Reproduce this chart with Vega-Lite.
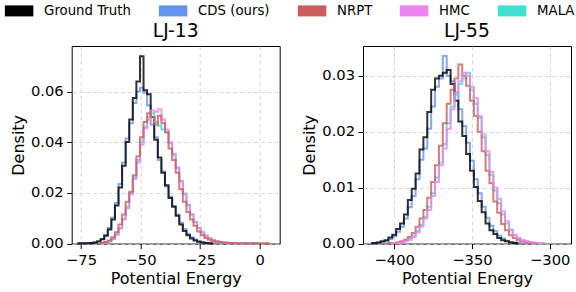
{
  "$schema": "https://vega.github.io/schema/vega-lite/v6.json",
  "padding": {"left": 7.7, "top": 0, "right": 0, "bottom": 0},
  "bounds": "flush",
  "spacing": 83.3,
  "datasets": {
    "lj13": [
      {"E": -76.5, "Ground Truth": 0, "CDS (ours)": 0},
      {"E": -75, "Ground Truth": 0.0001, "CDS (ours)": 0.0001},
      {"E": -73.5, "Ground Truth": 0.0001, "CDS (ours)": 0.0001},
      {"E": -72, "Ground Truth": 0.0001, "CDS (ours)": 0.0001},
      {"E": -70.5, "Ground Truth": 0.0002, "CDS (ours)": 0.0002},
      {"E": -69, "Ground Truth": 0.0004, "CDS (ours)": 0.0004},
      {"E": -67.5, "Ground Truth": 0.0008, "CDS (ours)": 0.0009, "NRPT": 0, "HMC": 0, "MALA": 0},
      {"E": -66, "Ground Truth": 0.0017, "CDS (ours)": 0.0018, "NRPT": 0.0003, "HMC": 0.0002, "MALA": 0.0002},
      {"E": -64.5, "Ground Truth": 0.0031, "CDS (ours)": 0.0035, "NRPT": 0.0006, "HMC": 0.0004, "MALA": 0.0004},
      {"E": -63, "Ground Truth": 0.0056, "CDS (ours)": 0.0062, "NRPT": 0.0012, "HMC": 0.0008, "MALA": 0.0009},
      {"E": -61.5, "Ground Truth": 0.0095, "CDS (ours)": 0.0103, "NRPT": 0.0025, "HMC": 0.0018, "MALA": 0.0019},
      {"E": -60, "Ground Truth": 0.015, "CDS (ours)": 0.016, "NRPT": 0.0045, "HMC": 0.0035, "MALA": 0.0036},
      {"E": -58.5, "Ground Truth": 0.0221, "CDS (ours)": 0.0235, "NRPT": 0.0075, "HMC": 0.006, "MALA": 0.0062},
      {"E": -57, "Ground Truth": 0.0307, "CDS (ours)": 0.032, "NRPT": 0.0115, "HMC": 0.0095, "MALA": 0.0098},
      {"E": -55.5, "Ground Truth": 0.0401, "CDS (ours)": 0.0415, "NRPT": 0.0165, "HMC": 0.014, "MALA": 0.0145},
      {"E": -54, "Ground Truth": 0.049, "CDS (ours)": 0.0475, "NRPT": 0.0205, "HMC": 0.0195, "MALA": 0.02},
      {"E": -52.5, "Ground Truth": 0.0575, "CDS (ours)": 0.0555, "NRPT": 0.027, "HMC": 0.0255, "MALA": 0.0262},
      {"E": -51, "Ground Truth": 0.064, "CDS (ours)": 0.06, "NRPT": 0.0345, "HMC": 0.032, "MALA": 0.033},
      {"E": -49.5, "Ground Truth": 0.074, "CDS (ours)": 0.0615, "NRPT": 0.042, "HMC": 0.039, "MALA": 0.04},
      {"E": -48, "Ground Truth": 0.0605, "CDS (ours)": 0.0595, "NRPT": 0.048, "HMC": 0.0455, "MALA": 0.046},
      {"E": -46.5, "Ground Truth": 0.059, "CDS (ours)": 0.0545, "NRPT": 0.0515, "HMC": 0.049, "MALA": 0.05},
      {"E": -45, "Ground Truth": 0.05, "CDS (ours)": 0.047, "NRPT": 0.05, "HMC": 0.0525, "MALA": 0.0515},
      {"E": -43.5, "Ground Truth": 0.041, "CDS (ours)": 0.042, "NRPT": 0.047, "HMC": 0.052, "MALA": 0.048},
      {"E": -42, "Ground Truth": 0.034, "CDS (ours)": 0.033, "NRPT": 0.0505, "HMC": 0.053, "MALA": 0.0465},
      {"E": -40.5, "Ground Truth": 0.028, "CDS (ours)": 0.0285, "NRPT": 0.0475, "HMC": 0.049, "MALA": 0.045},
      {"E": -39, "Ground Truth": 0.023, "CDS (ours)": 0.0225, "NRPT": 0.044, "HMC": 0.045, "MALA": 0.044},
      {"E": -37.5, "Ground Truth": 0.018, "CDS (ours)": 0.0185, "NRPT": 0.0375, "HMC": 0.04, "MALA": 0.0395},
      {"E": -36, "Ground Truth": 0.0145, "CDS (ours)": 0.0148, "NRPT": 0.033, "HMC": 0.0355, "MALA": 0.035},
      {"E": -34.5, "Ground Truth": 0.011, "CDS (ours)": 0.0115, "NRPT": 0.028, "HMC": 0.03, "MALA": 0.0298},
      {"E": -33, "Ground Truth": 0.0075, "CDS (ours)": 0.0082, "NRPT": 0.0215, "HMC": 0.0245, "MALA": 0.0248},
      {"E": -31.5, "Ground Truth": 0.005, "CDS (ours)": 0.0058, "NRPT": 0.0165, "HMC": 0.0195, "MALA": 0.0198},
      {"E": -30, "Ground Truth": 0.0033, "CDS (ours)": 0.0038, "NRPT": 0.0125, "HMC": 0.015, "MALA": 0.0152},
      {"E": -28.5, "Ground Truth": 0.002, "CDS (ours)": 0.0025, "NRPT": 0.0095, "HMC": 0.0115, "MALA": 0.0116},
      {"E": -27, "Ground Truth": 0.0012, "CDS (ours)": 0.0016, "NRPT": 0.007, "HMC": 0.0085, "MALA": 0.0086},
      {"E": -25.5, "Ground Truth": 0.0007, "CDS (ours)": 0.0009, "NRPT": 0.0048, "HMC": 0.0062, "MALA": 0.0063},
      {"E": -24, "Ground Truth": 0.0004, "CDS (ours)": 0.0005, "NRPT": 0.0033, "HMC": 0.0045, "MALA": 0.0045},
      {"E": -22.5, "Ground Truth": 0.0002, "CDS (ours)": 0.0003, "NRPT": 0.0022, "HMC": 0.0031, "MALA": 0.0032},
      {"E": -21, "Ground Truth": 0.0001, "CDS (ours)": 0.0001, "NRPT": 0.0015, "HMC": 0.0021, "MALA": 0.0022},
      {"E": -19.5, "Ground Truth": 0, "CDS (ours)": 0.0001, "NRPT": 0.001, "HMC": 0.0014, "MALA": 0.0015},
      {"E": -18, "CDS (ours)": 0, "NRPT": 0.0007, "HMC": 0.0009, "MALA": 0.001},
      {"E": -16.5, "NRPT": 0.0005, "HMC": 0.0006, "MALA": 0.0007},
      {"E": -15, "NRPT": 0.0003, "HMC": 0.0004, "MALA": 0.0005},
      {"E": -13.5, "NRPT": 0.0002, "HMC": 0.0003, "MALA": 0.0003},
      {"E": -12, "NRPT": 0.0002, "HMC": 0.0002, "MALA": 0.0002},
      {"E": -10.5, "NRPT": 0.0001, "HMC": 0.0002, "MALA": 0.0002},
      {"E": -9, "NRPT": 0.0001, "HMC": 0.0001, "MALA": 0.0001},
      {"E": -7.5, "NRPT": 0.0001, "HMC": 0.0001, "MALA": 0.0001},
      {"E": -6, "NRPT": 0.0001, "HMC": 0.0001, "MALA": 0.0001},
      {"E": -4.5, "NRPT": 0.0001, "HMC": 0.0001, "MALA": 0.0001},
      {"E": -3, "NRPT": 0.0001, "HMC": 0.0001, "MALA": 0.0001},
      {"E": -1.5, "NRPT": 0.0001, "HMC": 0, "MALA": 0.0001},
      {"E": 0, "NRPT": 0.0001, "MALA": 0},
      {"E": 1.5, "NRPT": 0.0001},
      {"E": 3, "NRPT": 0.0001},
      {"E": 4.5, "NRPT": 0}
    ],
    "lj55": [
      {"E": -415, "Ground Truth": 0, "CDS (ours)": 0},
      {"E": -412.5, "Ground Truth": 0.0001, "CDS (ours)": 0.0001},
      {"E": -410, "Ground Truth": 0.0002, "CDS (ours)": 0.0002},
      {"E": -407.5, "Ground Truth": 0.0004, "CDS (ours)": 0.0003},
      {"E": -405, "Ground Truth": 0.0006, "CDS (ours)": 0.0005, "NRPT": 0, "MALA": 0},
      {"E": -402.5, "Ground Truth": 0.0011, "CDS (ours)": 0.0008, "NRPT": 0.0001, "HMC": 0, "MALA": 0.0001},
      {"E": -400, "Ground Truth": 0.0016, "CDS (ours)": 0.0013, "NRPT": 0.0001, "HMC": 0.0001, "MALA": 0.0001},
      {"E": -397.5, "Ground Truth": 0.0026, "CDS (ours)": 0.0021, "NRPT": 0.0002, "HMC": 0.0001, "MALA": 0.0002},
      {"E": -395, "Ground Truth": 0.0036, "CDS (ours)": 0.003, "NRPT": 0.0004, "HMC": 0.0002, "MALA": 0.0003},
      {"E": -392.5, "Ground Truth": 0.0052, "CDS (ours)": 0.0045, "NRPT": 0.0007, "HMC": 0.0004, "MALA": 0.0005},
      {"E": -390, "Ground Truth": 0.0078, "CDS (ours)": 0.0065, "NRPT": 0.0012, "HMC": 0.0007, "MALA": 0.0009},
      {"E": -387.5, "Ground Truth": 0.0098, "CDS (ours)": 0.0085, "NRPT": 0.0019, "HMC": 0.0012, "MALA": 0.0014},
      {"E": -385, "Ground Truth": 0.0125, "CDS (ours)": 0.0115, "NRPT": 0.003, "HMC": 0.002, "MALA": 0.0022},
      {"E": -382.5, "Ground Truth": 0.0168, "CDS (ours)": 0.015, "NRPT": 0.0045, "HMC": 0.003, "MALA": 0.0033},
      {"E": -380, "Ground Truth": 0.019, "CDS (ours)": 0.017, "NRPT": 0.006, "HMC": 0.0045, "MALA": 0.0048},
      {"E": -377.5, "Ground Truth": 0.0235, "CDS (ours)": 0.0205, "NRPT": 0.0082, "HMC": 0.006, "MALA": 0.0066},
      {"E": -375, "Ground Truth": 0.0275, "CDS (ours)": 0.0245, "NRPT": 0.011, "HMC": 0.0085, "MALA": 0.009},
      {"E": -372.5, "Ground Truth": 0.0295, "CDS (ours)": 0.028, "NRPT": 0.014, "HMC": 0.011, "MALA": 0.0118},
      {"E": -370, "Ground Truth": 0.03, "CDS (ours)": 0.0295, "NRPT": 0.0175, "HMC": 0.014, "MALA": 0.0145},
      {"E": -367.5, "Ground Truth": 0.0305, "CDS (ours)": 0.0335, "NRPT": 0.0215, "HMC": 0.017, "MALA": 0.0178},
      {"E": -365, "Ground Truth": 0.031, "CDS (ours)": 0.03, "NRPT": 0.025, "HMC": 0.0205, "MALA": 0.0215},
      {"E": -362.5, "Ground Truth": 0.0285, "CDS (ours)": 0.029, "NRPT": 0.0275, "HMC": 0.024, "MALA": 0.0245},
      {"E": -360, "Ground Truth": 0.0255, "CDS (ours)": 0.027, "NRPT": 0.0295, "HMC": 0.027, "MALA": 0.0265},
      {"E": -357.5, "Ground Truth": 0.0218, "CDS (ours)": 0.024, "NRPT": 0.032, "HMC": 0.029, "MALA": 0.0285},
      {"E": -355, "Ground Truth": 0.0192, "CDS (ours)": 0.021, "NRPT": 0.03, "HMC": 0.0305, "MALA": 0.0295},
      {"E": -352.5, "Ground Truth": 0.016, "CDS (ours)": 0.018, "NRPT": 0.0282, "HMC": 0.03, "MALA": 0.0305},
      {"E": -350, "Ground Truth": 0.013, "CDS (ours)": 0.0148, "NRPT": 0.0255, "HMC": 0.028, "MALA": 0.0275},
      {"E": -347.5, "Ground Truth": 0.0101, "CDS (ours)": 0.0115, "NRPT": 0.0228, "HMC": 0.026, "MALA": 0.025},
      {"E": -345, "Ground Truth": 0.0076, "CDS (ours)": 0.009, "NRPT": 0.02, "HMC": 0.0228, "MALA": 0.0225},
      {"E": -342.5, "Ground Truth": 0.0056, "CDS (ours)": 0.0066, "NRPT": 0.0165, "HMC": 0.0195, "MALA": 0.019},
      {"E": -340, "Ground Truth": 0.0036, "CDS (ours)": 0.0046, "NRPT": 0.013, "HMC": 0.0165, "MALA": 0.0158},
      {"E": -337.5, "Ground Truth": 0.0024, "CDS (ours)": 0.0032, "NRPT": 0.0108, "HMC": 0.0128, "MALA": 0.0122},
      {"E": -335, "Ground Truth": 0.0017, "CDS (ours)": 0.0022, "NRPT": 0.0075, "HMC": 0.01, "MALA": 0.0095},
      {"E": -332.5, "Ground Truth": 0.001, "CDS (ours)": 0.0014, "NRPT": 0.0055, "HMC": 0.008, "MALA": 0.0072},
      {"E": -330, "Ground Truth": 0.0006, "CDS (ours)": 0.0009, "NRPT": 0.0035, "HMC": 0.0058, "MALA": 0.0052},
      {"E": -327.5, "Ground Truth": 0.0004, "CDS (ours)": 0.0005, "NRPT": 0.0024, "HMC": 0.004, "MALA": 0.0036},
      {"E": -325, "Ground Truth": 0.0002, "CDS (ours)": 0.0003, "NRPT": 0.0015, "HMC": 0.0025, "MALA": 0.0024},
      {"E": -322.5, "Ground Truth": 0.0001, "CDS (ours)": 0.0002, "NRPT": 0.001, "HMC": 0.0016, "MALA": 0.0015},
      {"E": -320, "Ground Truth": 0, "CDS (ours)": 0.0001, "NRPT": 0.0006, "HMC": 0.001, "MALA": 0.0009},
      {"E": -317.5, "CDS (ours)": 0, "NRPT": 0.0004, "HMC": 0.0006, "MALA": 0.0006},
      {"E": -315, "NRPT": 0.0002, "HMC": 0.0004, "MALA": 0.0004},
      {"E": -312.5, "NRPT": 0.0001, "HMC": 0.0003, "MALA": 0.0002},
      {"E": -310, "NRPT": 0.0001, "HMC": 0.0002, "MALA": 0.0001},
      {"E": -307.5, "NRPT": 0, "HMC": 0.0001, "MALA": 0.0001},
      {"E": -305, "HMC": 0.0001, "MALA": 0},
      {"E": -302.5, "HMC": 0}
    ]
  },
  "hconcat": [
    {
      "width": 208,
      "height": 197.6,
      "title": "LJ-13",
      "data": {"name": "lj13"},
      "transform": [
        {"fold": ["MALA", "HMC", "NRPT", "CDS (ours)", "Ground Truth"], "as": ["Method", "Density"]},
        {"filter": "isValid(datum.Density)"}
      ],
      "mark": {"type": "line", "interpolate": "step", "strokeWidth": 2, "opacity": 0.8},
      "encoding": {
        "x": {"field": "E", "type": "quantitative", "scale": {"domain": [-78.9, 8.4], "nice": false, "zero": false}, "axis": {"values": [-75, -50, -25, 0], "title": "Potential Energy"}},
        "y": {"field": "Density", "type": "quantitative", "scale": {"domain": [0, 0.078], "nice": false}, "axis": {"values": [0, 0.02, 0.04, 0.06], "format": ".2f", "title": "Density"}},
        "color": {
          "field": "Method", "type": "nominal",
          "scale": {"domain": ["Ground Truth", "CDS (ours)", "NRPT", "HMC", "MALA"], "range": ["#000000", "#6495ED", "#CD5C5C", "#EE82EE", "#40E0D0"]},
          "legend": {
            "orient": "none", "legendX": -63.1, "legendY": -45.7, "direction": "horizontal", "columns": 5, "title": null, "padding": 0,
            "symbolType": "M-1.37,-0.53H1.37V0.53H-1.37Z", "symbolSize": 432, "symbolOpacity": 1, "symbolStrokeWidth": 0,
            "labelOffset": 14.5, "columnPadding": 27, "labelFont": "DejaVu Sans", "labelFontSize": 13.3, "labelColor": "#000000", "labelLimit": 300,
            "encode": {"symbols": {"update": {"fill": {"scale": "color", "field": "value"}, "opacity": {"value": 1}, "strokeWidth": {"value": 0}}}}
          }
        }
      }
    },
    {
      "width": 208,
      "height": 197.6,
      "title": "LJ-55",
      "data": {"name": "lj55"},
      "transform": [
        {"fold": ["MALA", "HMC", "NRPT", "CDS (ours)", "Ground Truth"], "as": ["Method", "Density"]},
        {"filter": "isValid(datum.Density)"}
      ],
      "mark": {"type": "line", "interpolate": "step", "strokeWidth": 2, "opacity": 0.8},
      "encoding": {
        "x": {"field": "E", "type": "quantitative", "scale": {"domain": [-420.1, -286.3], "nice": false, "zero": false}, "axis": {"values": [-400, -350, -300], "title": "Potential Energy"}},
        "y": {"field": "Density", "type": "quantitative", "scale": {"domain": [0, 0.0353], "nice": false}, "axis": {"values": [0, 0.01, 0.02, 0.03], "format": ".2f", "title": "Density"}},
        "color": {"field": "Method", "type": "nominal"}
      }
    }
  ],
  "config": {
    "background": "white",
    "view": {"stroke": "#000000", "strokeWidth": 1},
    "font": "DejaVu Sans",
    "title": {"font": "DejaVu Sans", "fontSize": 18.7, "fontWeight": "normal", "color": "#000000", "offset": 5},
    "axis": {
      "domain": false, "grid": true, "gridDash": [4, 3], "gridColor": "#cccccc", "gridWidth": 0.8,
      "tickColor": "#000000", "tickSize": 5, "tickWidth": 1,
      "labelFont": "DejaVu Sans", "labelFontSize": 14.7, "labelColor": "#000000", "labelPadding": 3.5, "labelFlush": false, "labelOverlap": false,
      "titleFont": "DejaVu Sans", "titleFontSize": 16, "titleFontWeight": "normal", "titleColor": "#000000", "titlePadding": 4
    }
  }
}
